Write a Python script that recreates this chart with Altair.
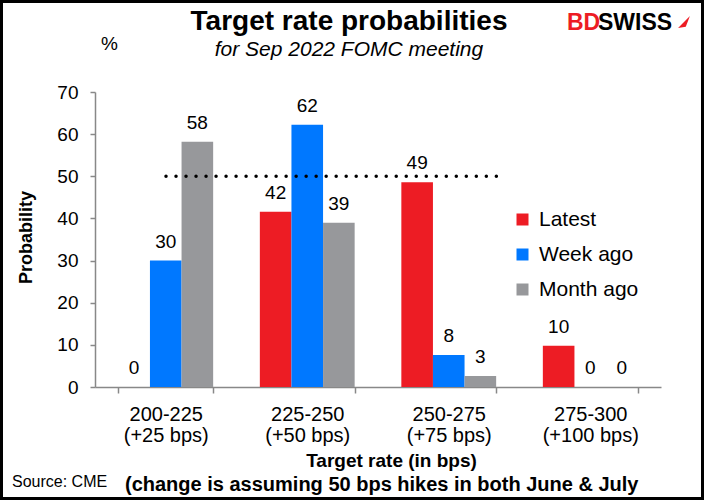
import altair as alt
import pandas as pd

categories = ["200-225", "225-250", "250-275", "275-300"]
bps_labels = ["(+25 bps)", "(+50 bps)", "(+75 bps)", "(+100 bps)"]
series = ["Latest", "Week ago", "Month ago"]
latest = [0, 41.6, 48.6, 9.8]
week_ago = [30.0, 62.2, 7.6, 0]
month_ago = [58.2, 39.0, 2.6, 0]
colors = ["#ED1C24", "#0078FF", "#97989B"]
y_ticks = [0, 10, 20, 30, 40, 50, 60, 70]
threshold = 50

rows = []
for s, vals in zip(series, [latest, week_ago, month_ago]):
    for c, v in zip(categories, vals):
        rows.append({"cat": c, "series": s, "value": v})
df = pd.DataFrame(rows)

FONT = "Liberation Sans"
W, H = 566, 295
PL, PT, PR, PB = 95, 92, 43, 113

label_expr = "[datum.label, " + "".join(
    f"datum.label == '{c}' ? '{b}' : " for c, b in zip(categories, bps_labels)
) + "'']"

x_enc = alt.X(
    "cat:N",
    sort=categories,
    scale=alt.Scale(domain=categories, paddingInner=0.33, paddingOuter=0.165),
    axis=alt.Axis(
        title="Target rate (in bps)",
        titleFont=FONT, titleFontSize=19, titleFontWeight="bold", titleColor="black",
        titleX=296, titleY=73, titleAlign="center", titleBaseline="middle",
        labelExpr=label_expr, labelFont=FONT, labelFontSize=20, labelColor="black",
        labelLineHeight=21, labelPadding=11, labelAngle=0,
        tickBand="extent", tickSize=6, tickColor="#888888", tickWidth=1.5,
        domainColor="#888888", domainWidth=1.5, grid=False,
    ),
)
xoff_enc = alt.XOffset("series:N", sort=series,
                       scale=alt.Scale(domain=series, paddingInner=0, paddingOuter=0))
y_enc = alt.Y(
    "value:Q",
    scale=alt.Scale(domain=[0, 70], nice=False),
    axis=alt.Axis(
        values=y_ticks, title="Probability",
        titleFont=FONT, titleFontSize=18, titleFontWeight="bold", titleColor="black",
        titleX=-69, titleY=145, titleAngle=270, titleAlign="center", titleBaseline="middle",
        labelFont=FONT, labelFontSize=19, labelColor="black", labelPadding=12,
        tickSize=5, tickColor="#888888", tickWidth=1.5,
        domainColor="#888888", domainWidth=1.5, grid=False,
    ),
)

base = alt.Chart(df)
bars = base.mark_bar().encode(
    x=x_enc, xOffset=xoff_enc, y=y_enc,
    color=alt.Color(
        "series:N", sort=series,
        scale=alt.Scale(domain=series, range=colors),
        legend=alt.Legend(
            title=None, orient="none", legendX=417, legendY=117,
            symbolType="square", symbolSize=144, symbolStrokeWidth=0,
            labelFont=FONT, labelFontSize=21, labelColor="black", labelOffset=6,
            rowPadding=13, padding=0,
        ),
    ),
)
labels = base.mark_text(font=FONT, fontSize=19, color="black", baseline="alphabetic", dy=-13).encode(
    x=alt.X("cat:N", sort=categories), xOffset=alt.XOffset("series:N", sort=series),
    y="value:Q", text=alt.Text("value:Q", format=".0f"),
)

one = pd.DataFrame({"v": [threshold]})
rule = alt.Chart(one).mark_rule(
    color="black", strokeWidth=3.5, strokeDash=[0.01, 10], strokeCap="round"
).encode(y="v:Q", x=alt.value(71), x2=alt.value(409))


def txt(text, x, y, size, weight="normal", style="normal", align="left", color="black", baseline="middle"):
    return alt.Chart(pd.DataFrame({"t": [text]})).mark_text(
        font=FONT, fontSize=size, fontWeight=weight, fontStyle=style,
        align=align, baseline=baseline, color=color,
    ).encode(x=alt.value(x), y=alt.value(y), text="t:N")


title = txt("Target rate probabilities", 254, -70, 28, weight="bold", align="center")
subtitle = txt("for Sep 2022 FOMC meeting", 254, -42, 21, style="italic", align="center")
pct = txt("%", 6, -48, 19)
source = txt("Source: CME", -83, 390, 16)
note = txt("(change is assuming 50 bps hikes in both June & July", 30, 393, 20, weight="bold")
logo_bd = txt("BD", 472, -69, 23, weight="bold", color="#ED1C24")
logo_sw = txt("SWISS", 503, -69, 23, weight="bold")
logo_arrow = alt.Chart(pd.DataFrame({"t": [0]})).mark_point(
    shape="M-1,1 L1,-1 L0.3,0.8 Z", filled=True, color="#ED1C24", opacity=1, size=140
).encode(x=alt.value(589), y=alt.value(-70))

frame = alt.Chart(pd.DataFrame({"t": [0]})).mark_rect(
    fillOpacity=0, stroke="black", strokeWidth=3
).encode(x=alt.value(-PL + 1.5), x2=alt.value(W + PR - 1.5),
         y=alt.value(-PT + 1.5), y2=alt.value(H + PB - 1.5))

chart = alt.layer(
    bars, labels, rule, title, subtitle, pct, source, note, logo_bd, logo_sw, logo_arrow, frame
).properties(
    width=W, height=H,
    autosize=alt.AutoSizeParams(type="none"),
    padding={"left": PL, "top": PT, "right": PR, "bottom": PB},
    background="white",
).configure_view(stroke=None)

chart.save("out.html", embed_options={"renderer": "svg", "actions": False})
